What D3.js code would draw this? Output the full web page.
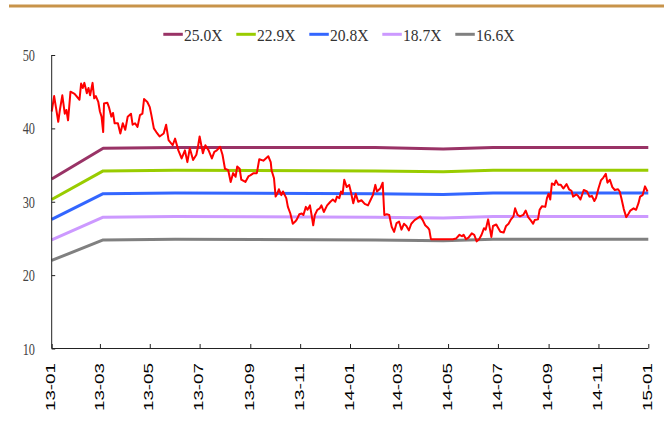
<!DOCTYPE html>
<html><head><meta charset="utf-8">
<script src="https://cdn.jsdelivr.net/npm/d3@7"></script>
<style>html,body{margin:0;padding:0;background:#fff;}svg{display:block;}</style>
</head><body>
<svg id="chart" width="664" height="422"></svg>
<script>
// ---- data ----
const bandNames = ["25.0X", "22.9X", "20.8X", "18.7X", "16.6X"];
const bandColors = ["#993366", "#99CC00", "#3366FF", "#CC99FF", "#808080"];
const bandDates = ["2013-01-01", "2013-03-05", "2013-06-01", "2014-02-01", "2014-04-25", "2014-06-25", "2015-01-01"];
const band250 = [33.1, 37.3, 37.4, 37.4, 37.2, 37.4, 37.4];
const band229 = [30.3, 34.2, 34.3, 34.2, 34.1, 34.3, 34.3];
const band208 = [27.6, 31.1, 31.2, 31.1, 31.0, 31.2, 31.2];
const band187 = [24.8, 27.9, 28.0, 27.9, 27.8, 28.0, 28.0];
const band166 = [22.0, 24.8, 24.9, 24.8, 24.7, 24.9, 24.9];
const bandValues = [band250, band229, band208, band187, band166];

const priceDates = [
"2013-01-01","2013-01-04","2013-01-06","2013-01-09","2013-01-11","2013-01-14","2013-01-17","2013-01-19","2013-01-21","2013-01-24",
"2013-01-29","2013-02-04","2013-02-06","2013-02-08","2013-02-10","2013-02-13","2013-02-15","2013-02-17","2013-02-20","2013-02-22",
"2013-02-24","2013-02-27","2013-03-01","2013-03-03","2013-03-05","2013-03-06","2013-03-10","2013-03-12","2013-03-15","2013-03-17",
"2013-03-19","2013-03-23","2013-03-26","2013-03-29","2013-04-01","2013-04-04","2013-04-08","2013-04-10","2013-04-13","2013-04-16",
"2013-04-19","2013-04-22","2013-04-24","2013-04-28","2013-05-01","2013-05-03","2013-05-06","2013-05-09","2013-05-13","2013-05-18",
"2013-05-21","2013-05-24","2013-05-29","2013-06-01","2013-06-05","2013-06-09","2013-06-13","2013-06-16","2013-06-19","2013-06-23",
"2013-06-27","2013-06-29","2013-07-01","2013-07-05","2013-07-08","2013-07-12","2013-07-16","2013-07-19","2013-07-22","2013-07-26",
"2013-07-29","2013-08-01","2013-08-05","2013-08-08","2013-08-11","2013-08-14","2013-08-16","2013-08-19","2013-08-21","2013-08-26",
"2013-08-30","2013-09-01","2013-09-05","2013-09-09","2013-09-12","2013-09-17","2013-09-23","2013-09-26","2013-09-27","2013-09-30",
"2013-10-02","2013-10-04","2013-10-06","2013-10-09","2013-10-11","2013-10-15","2013-10-17","2013-10-20","2013-10-23","2013-10-26",
"2013-10-28","2013-10-31","2013-11-03","2013-11-05","2013-11-08","2013-11-10","2013-11-13","2013-11-15","2013-11-17","2013-11-19",
"2013-11-22","2013-11-25","2013-11-27","2013-11-30","2013-12-04","2013-12-08","2013-12-11","2013-12-14","2013-12-16","2013-12-19",
"2013-12-21","2013-12-23","2013-12-25","2013-12-28","2013-12-31","2014-01-02","2014-01-05","2014-01-08","2014-01-11","2014-01-15",
"2014-01-19","2014-01-23","2014-01-26","2014-01-29","2014-02-01","2014-02-03","2014-02-07","2014-02-10","2014-02-12","2014-02-15",
"2014-02-18","2014-02-21","2014-02-24","2014-02-27","2014-03-02","2014-03-05","2014-03-08","2014-03-11","2014-03-14","2014-03-17",
"2014-03-21","2014-03-28","2014-03-31","2014-04-03","2014-04-06","2014-04-08","2014-04-10","2014-05-07","2014-05-11","2014-05-15",
"2014-05-18","2014-05-20","2014-05-23","2014-05-26","2014-05-30","2014-06-02","2014-06-05","2014-06-08","2014-06-11","2014-06-14",
"2014-06-16","2014-06-19","2014-06-21","2014-06-23","2014-06-25","2014-06-29","2014-07-01","2014-07-04","2014-07-08","2014-07-11",
"2014-07-14","2014-07-17","2014-07-20","2014-07-22","2014-07-25","2014-07-28","2014-08-01","2014-08-04","2014-08-07","2014-08-10",
"2014-08-13","2014-08-15","2014-08-19","2014-08-21","2014-08-24","2014-08-28","2014-08-30","2014-09-01","2014-09-03","2014-09-05",
"2014-09-08","2014-09-10","2014-09-13","2014-09-16","2014-09-19","2014-09-23","2014-09-26","2014-09-29","2014-10-01","2014-10-05",
"2014-10-07","2014-10-10","2014-10-14","2014-10-18","2014-10-21","2014-10-24","2014-10-27","2014-10-29","2014-11-01","2014-11-04",
"2014-11-07","2014-11-10","2014-11-12","2014-11-15","2014-11-18","2014-11-21","2014-11-25","2014-11-27","2014-11-29","2014-12-02",
"2014-12-05","2014-12-08","2014-12-10","2014-12-14","2014-12-17","2014-12-20","2014-12-22","2014-12-25","2014-12-28","2014-12-31"];
const priceValues = [
42.3,44.4,43.0,40.9,42.5,44.5,42.0,42.5,41.1,45.0,
44.7,43.9,46.1,45.5,46.2,44.8,45.5,44.5,46.2,44.1,
44.4,43.6,42.3,41.6,39.5,43.4,43.5,42.9,41.6,42.1,
40.7,40.7,39.3,40.7,39.8,41.6,42.0,40.5,40.7,40.2,
41.8,42.0,44.0,43.6,42.9,41.8,40.0,39.5,38.9,39.3,
40.5,38.4,37.7,38.6,37.0,35.9,37.0,35.4,37.3,35.7,
36.4,37.5,38.9,36.6,37.7,37.0,35.9,36.8,37.0,37.5,
36.4,34.5,34.3,32.7,33.9,33.4,34.8,34.5,33.0,32.7,
33.5,33.6,33.9,33.9,35.8,35.6,36.2,35.4,34.3,33.2,
30.7,31.1,31.7,30.9,31.4,30.5,29.3,28.4,27.0,27.3,
27.6,28.3,28.4,28.2,29.3,28.9,29.5,28.2,26.8,28.2,
28.9,29.1,29.5,28.6,29.5,30.0,30.3,30.0,30.7,30.5,
31.4,31.1,33.0,32.0,32.3,31.4,29.8,31.1,30.0,30.2,
29.7,29.5,30.2,30.9,32.3,31.4,31.8,32.6,28.2,28.3,
28.2,26.6,25.9,27.1,27.3,26.2,27.0,26.7,26.1,27.0,
27.5,28.0,27.5,26.8,26.5,26.2,24.9,24.9,25.0,25.5,
25.3,25.5,24.9,25.1,25.7,25.5,24.6,24.9,25.5,26.4,
26.2,27.6,26.4,25.2,26.7,26.9,26.5,25.9,25.8,26.7,
27.0,27.6,28.0,29.1,28.2,28.0,28.2,28.8,27.9,27.5,
27.0,27.5,27.6,28.9,29.4,29.3,30.5,31.1,30.3,32.5,
32.3,32.9,32.3,32.3,31.8,32.4,31.7,31.5,30.7,31.0,
30.8,30.3,31.6,31.4,30.7,30.8,30.1,30.5,31.8,32.9,
33.3,33.8,32.6,33.0,32.0,31.6,31.7,31.4,30.5,29.0,
27.9,28.4,28.8,29.1,28.9,29.8,30.7,30.9,32.1,31.4];

const yTicks = [10, 20, 30, 40, 50];
const xTickLabels = ["13-01","13-03","13-05","13-07","13-09","13-11","14-01","14-03","14-05","14-07","14-09","14-11","15-01"];
const xTickDates = ["2013-01-01","2013-03-01","2013-05-01","2013-07-01","2013-09-01","2013-11-01","2014-01-01","2014-03-01","2014-05-01","2014-07-01","2014-09-01","2014-11-01","2015-01-01"];

// ---- drawing ----
const parse = d3.timeParse("%Y-%m-%d");
const svg = d3.select("#chart");

// top decorative rule
svg.append("line").attr("x1", 9).attr("x2", 664).attr("y1", 6).attr("y2", 6)
  .attr("stroke", "#C8944A").attr("stroke-width", 3);

const x = d3.scaleTime().domain([parse("2013-01-01"), parse("2015-01-01")]).range([51.7, 648.3]);
const y = d3.scaleLinear().domain([10, 50]).range([348.5, 55]);

const line = d3.line().x(d => x(d[0])).y(d => y(d[1]));

// bands
bandValues.forEach((vals, i) => {
  const pts = bandDates.map((d, j) => [parse(d), vals[j]]);
  svg.append("path").datum(pts).attr("d", line)
    .attr("fill", "none").attr("stroke", bandColors[i]).attr("stroke-width", 3)
    .attr("stroke-linejoin", "round");
});

// price
const pricePts = priceDates.map((d, j) => [parse(d), priceValues[j]]);
svg.append("path").datum(pricePts).attr("d", line)
  .attr("fill", "none").attr("stroke", "#FF0000").attr("stroke-width", 2)
  .attr("stroke-linejoin", "round");

// y axis
const yAxis = d3.axisRight(y).tickValues(yTicks).tickSize(3.5).tickFormat("");
const gy = svg.append("g").attr("transform", "translate(51.7,0)").call(yAxis);
gy.select(".domain").attr("d", `M0,${y(50)}V${y(10)}`).attr("stroke", "#222");
gy.selectAll(".tick line").attr("stroke", "#222");
svg.append("g").selectAll("text").data(yTicks).join("text")
  .attr("x", 35).attr("y", d => y(d) + 6)
  .attr("text-anchor", "end")
  .attr("font-family", "'Liberation Serif','DejaVu Serif',serif")
  .attr("font-size", 17).attr("fill", "#444")
  .attr("textLength", 12.3).attr("lengthAdjust", "spacingAndGlyphs")
  .text(d => d);

// x axis
const xDates = xTickDates.map(parse);
const xAxis = d3.axisTop(x).tickValues(xDates).tickSize(4.5).tickFormat("");
const gx = svg.append("g").attr("transform", `translate(0,${y(10)})`).call(xAxis);
gx.select(".domain").attr("d", `M${x.range()[0]},0H${x.range()[1]}`).attr("stroke", "#222");
gx.selectAll(".tick line").attr("stroke", "#222");
svg.append("g").selectAll("text").data(xDates).join("text")
  .attr("transform", (d) => `translate(${x(d) + 3.6},363) rotate(-90)`)
  .attr("text-anchor", "end")
  .attr("font-family", "'Liberation Sans',Arial,sans-serif")
  .attr("font-size", 12.6).attr("fill", "#000")
  .attr("textLength", 48).attr("lengthAdjust", "spacingAndGlyphs")
  .text((d, i) => xTickLabels[i]);

// legend
const lg = svg.append("g");
bandNames.forEach((name, i) => {
  const lx = 163.3 + i * 73;
  lg.append("line").attr("x1", lx).attr("x2", lx + 19.5).attr("y1", 34.3).attr("y2", 34.3)
    .attr("stroke", bandColors[i]).attr("stroke-width", 3);
  lg.append("text").attr("x", lx + 20.7).attr("y", 40.7)
    .attr("font-family", "'Liberation Serif','DejaVu Serif',serif")
    .attr("font-size", 17).attr("fill", "#333")
    .attr("textLength", 38.5).attr("lengthAdjust", "spacingAndGlyphs")
    .text(name);
});
</script>
</body></html>
